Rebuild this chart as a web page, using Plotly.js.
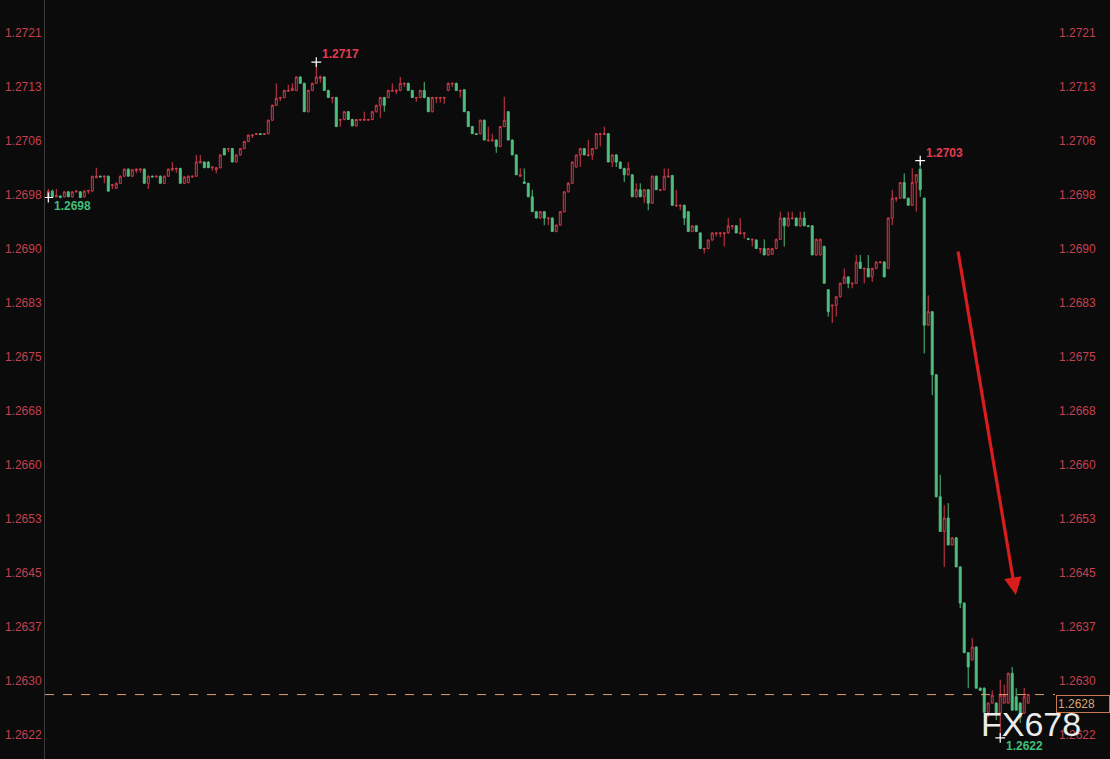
<!DOCTYPE html>
<html><head><meta charset="utf-8">
<script src="https://cdn.plot.ly/plotly-3.0.1.min.js"></script>
<style>html,body{margin:0;padding:0;background:#0b0b0b;overflow:hidden;} #chart{width:1110px;height:759px;}</style>
</head><body><div id="chart"></div>
<script>
const openP = [
1.26979,1.26987,1.26979,1.26980,1.26979,1.26986,1.26979,1.26986,1.26986,1.26979,
1.26987,1.26987,1.27006,1.27008,1.27007,1.27008,1.26995,1.26991,1.26998,1.27008,
1.27018,1.27008,1.27016,1.27017,1.27018,1.26998,1.27008,1.27007,1.27008,1.26998,
1.27008,1.27017,1.27018,1.27019,1.26998,1.26999,1.27007,1.27008,1.27027,1.27028,
1.27028,1.27020,1.27017,1.27020,1.27047,1.27046,1.27047,1.27028,1.27038,1.27047,
1.27057,1.27065,1.27067,1.27068,1.27067,1.27068,1.27087,1.27108,1.27118,1.27119,
1.27128,1.27129,1.27129,1.27148,1.27139,1.27099,1.27129,1.27139,1.27146,1.27148,
1.27129,1.27118,1.27119,1.27087,1.27088,1.27099,1.27088,1.27079,1.27087,1.27087,
1.27087,1.27088,1.27099,1.27108,1.27119,1.27119,1.27128,1.27128,1.27129,1.27138,
1.27139,1.27129,1.27118,1.27119,1.27129,1.27119,1.27099,1.27118,1.27118,1.27118,
1.27129,1.27138,1.27139,1.27128,1.27130,1.27099,1.27078,1.27068,1.27068,1.27087,
1.27058,1.27058,1.27059,1.27050,1.27078,1.27099,1.27059,1.27038,1.27008,1.27000,
1.26998,1.26979,1.26958,1.26949,1.26958,1.26948,1.26949,1.26930,1.26939,1.26958,
1.26986,1.26998,1.27021,1.27038,1.27047,1.27037,1.27038,1.27047,1.27067,1.27067,
1.27068,1.27028,1.27038,1.27028,1.27019,1.27010,1.27010,1.26979,1.26989,1.26979,
1.26989,1.26970,1.27008,1.26988,1.26989,1.27007,1.27009,1.26966,1.26966,1.26967,
1.26958,1.26930,1.26938,1.26928,1.26905,1.26906,1.26918,1.26927,1.26927,1.26927,
1.26928,1.26937,1.26938,1.26927,1.26927,1.26920,1.26918,1.26918,1.26905,1.26906,
1.26897,1.26898,1.26906,1.26919,1.26949,1.26938,1.26948,1.26949,1.26938,1.26949,
1.26938,1.26938,1.26897,1.26897,1.26909,1.26848,1.26825,1.26826,1.26838,1.26857,
1.26866,1.26856,1.26857,1.26887,1.26877,1.26878,1.26866,1.26878,1.26886,1.26887,
1.26878,1.26949,1.26976,1.26977,1.26999,1.26977,1.26967,1.26999,1.27018,1.26977,
1.26798,1.26817,1.26728,1.26556,1.26507,1.26526,1.26488,1.26498,1.26457,1.26406,
1.26336,1.26326,1.26344,1.26286,1.26286,1.26252,1.26265,1.26265,1.26251,1.26265,
1.26265,1.26307,1.26274,1.26265,1.26251,1.26265];
const highP = [
1.26990,1.26989,1.26990,1.26981,1.26987,1.26987,1.26987,1.26988,1.26987,1.26988,
1.26988,1.27008,1.27020,1.27009,1.27009,1.27009,1.26996,1.26999,1.27009,1.27019,
1.27019,1.27018,1.27019,1.27019,1.27019,1.27009,1.27009,1.27009,1.27009,1.27009,
1.27019,1.27028,1.27020,1.27020,1.27008,1.27009,1.27009,1.27038,1.27038,1.27029,
1.27029,1.27021,1.27021,1.27039,1.27048,1.27048,1.27048,1.27039,1.27048,1.27058,
1.27067,1.27067,1.27069,1.27069,1.27069,1.27088,1.27109,1.27139,1.27120,1.27130,
1.27137,1.27139,1.27149,1.27149,1.27140,1.27130,1.27140,1.27169,1.27150,1.27149,
1.27130,1.27120,1.27120,1.27089,1.27100,1.27100,1.27089,1.27089,1.27089,1.27099,
1.27089,1.27100,1.27109,1.27120,1.27120,1.27130,1.27139,1.27131,1.27148,1.27140,
1.27140,1.27130,1.27120,1.27130,1.27141,1.27120,1.27120,1.27120,1.27120,1.27120,
1.27140,1.27140,1.27140,1.27130,1.27131,1.27100,1.27079,1.27069,1.27088,1.27088,
1.27078,1.27068,1.27060,1.27079,1.27120,1.27100,1.27060,1.27039,1.27019,1.27019,
1.26999,1.26989,1.26959,1.26959,1.26959,1.26950,1.26950,1.26940,1.26959,1.26987,
1.27000,1.27029,1.27039,1.27048,1.27048,1.27059,1.27048,1.27069,1.27069,1.27078,
1.27069,1.27039,1.27039,1.27029,1.27020,1.27028,1.27011,1.26998,1.26998,1.26990,
1.26990,1.27009,1.27009,1.26990,1.27019,1.27019,1.27010,1.26989,1.26968,1.26968,
1.26959,1.26939,1.26939,1.26929,1.26907,1.26919,1.26929,1.26929,1.26929,1.26929,
1.26949,1.26939,1.26939,1.26949,1.26929,1.26921,1.26920,1.26919,1.26907,1.26919,
1.26907,1.26907,1.26920,1.26958,1.26950,1.26958,1.26958,1.26950,1.26958,1.26958,
1.26939,1.26939,1.26920,1.26920,1.26910,1.26849,1.26827,1.26839,1.26858,1.26878,
1.26867,1.26858,1.26897,1.26897,1.26879,1.26897,1.26879,1.26888,1.26888,1.26888,
1.26950,1.26989,1.26979,1.27000,1.27012,1.26978,1.27019,1.27011,1.27030,1.26978,
1.26840,1.26818,1.26729,1.26587,1.26544,1.26547,1.26499,1.26499,1.26458,1.26407,
1.26337,1.26357,1.26345,1.26287,1.26287,1.26266,1.26283,1.26266,1.26298,1.26291,
1.26308,1.26316,1.26286,1.26266,1.26286,1.26276];
const lowP = [
1.26978,1.26979,1.26978,1.26977,1.26978,1.26979,1.26978,1.26985,1.26978,1.26978,
1.26983,1.26986,1.27005,1.27007,1.26998,1.26987,1.26990,1.26990,1.26997,1.27007,
1.27008,1.27007,1.27012,1.27013,1.26998,1.26990,1.27007,1.27006,1.26998,1.26997,
1.27007,1.27015,1.27013,1.26998,1.26997,1.26998,1.27006,1.27007,1.27026,1.27020,
1.27020,1.27016,1.27012,1.27019,1.27038,1.27042,1.27028,1.27027,1.27037,1.27046,
1.27056,1.27062,1.27066,1.27066,1.27066,1.27067,1.27086,1.27107,1.27114,1.27118,
1.27127,1.27128,1.27128,1.27139,1.27099,1.27098,1.27128,1.27138,1.27140,1.27129,
1.27119,1.27111,1.27078,1.27078,1.27087,1.27088,1.27079,1.27078,1.27086,1.27086,
1.27086,1.27087,1.27098,1.27090,1.27099,1.27118,1.27127,1.27124,1.27128,1.27134,
1.27129,1.27119,1.27113,1.27118,1.27118,1.27099,1.27098,1.27111,1.27112,1.27110,
1.27128,1.27134,1.27129,1.27119,1.27099,1.27078,1.27068,1.27067,1.27067,1.27059,
1.27057,1.27057,1.27041,1.27049,1.27077,1.27059,1.27038,1.27010,1.27007,1.26997,
1.26979,1.26958,1.26949,1.26948,1.26939,1.26939,1.26930,1.26929,1.26938,1.26957,
1.26985,1.26997,1.27020,1.27021,1.27038,1.27036,1.27031,1.27046,1.27050,1.27066,
1.27028,1.27021,1.27021,1.27019,1.27000,1.27009,1.26979,1.26978,1.26979,1.26970,
1.26960,1.26969,1.26989,1.26987,1.26988,1.27006,1.26967,1.26965,1.26960,1.26939,
1.26930,1.26929,1.26930,1.26906,1.26899,1.26905,1.26917,1.26923,1.26922,1.26909,
1.26927,1.26933,1.26928,1.26926,1.26920,1.26918,1.26909,1.26906,1.26899,1.26897,
1.26896,1.26897,1.26905,1.26918,1.26909,1.26937,1.26947,1.26938,1.26937,1.26938,
1.26937,1.26897,1.26896,1.26896,1.26857,1.26810,1.26801,1.26810,1.26837,1.26856,
1.26850,1.26850,1.26856,1.26878,1.26857,1.26866,1.26859,1.26877,1.26885,1.26866,
1.26877,1.26939,1.26972,1.26976,1.26977,1.26967,1.26966,1.26958,1.26979,1.26758,
1.26797,1.26699,1.26555,1.26507,1.26457,1.26488,1.26487,1.26457,1.26399,1.26336,
1.26286,1.26325,1.26286,1.26282,1.26252,1.26245,1.26264,1.26241,1.26216,1.26264,
1.26264,1.26255,1.26255,1.26237,1.26250,1.26264];
const closeP = [
1.26987,1.26979,1.26981,1.26978,1.26986,1.26979,1.26986,1.26987,1.26978,1.26987,
1.26988,1.27008,1.27008,1.27007,1.27008,1.26987,1.26996,1.26998,1.27008,1.27018,
1.27008,1.27017,1.27018,1.27018,1.26998,1.27008,1.27007,1.27008,1.26998,1.27008,
1.27018,1.27019,1.27019,1.26998,1.27007,1.27008,1.27008,1.27028,1.27029,1.27020,
1.27020,1.27021,1.27020,1.27038,1.27038,1.27047,1.27028,1.27038,1.27047,1.27057,
1.27066,1.27066,1.27068,1.27067,1.27068,1.27087,1.27108,1.27118,1.27119,1.27129,
1.27129,1.27132,1.27148,1.27139,1.27099,1.27129,1.27139,1.27148,1.27148,1.27129,
1.27119,1.27119,1.27078,1.27088,1.27099,1.27088,1.27079,1.27088,1.27088,1.27088,
1.27088,1.27099,1.27108,1.27119,1.27108,1.27129,1.27129,1.27129,1.27139,1.27139,
1.27129,1.27119,1.27119,1.27129,1.27119,1.27099,1.27119,1.27119,1.27119,1.27119,
1.27139,1.27139,1.27129,1.27129,1.27099,1.27078,1.27068,1.27067,1.27087,1.27059,
1.27059,1.27059,1.27050,1.27078,1.27087,1.27059,1.27038,1.27010,1.27010,1.26998,
1.26979,1.26958,1.26949,1.26958,1.26949,1.26949,1.26930,1.26939,1.26958,1.26986,
1.26998,1.27028,1.27038,1.27047,1.27038,1.27038,1.27047,1.27068,1.27068,1.27068,
1.27028,1.27038,1.27028,1.27019,1.27010,1.27019,1.26979,1.26989,1.26979,1.26989,
1.26970,1.27008,1.26989,1.26989,1.27008,1.27008,1.26967,1.26967,1.26967,1.26949,
1.26930,1.26938,1.26930,1.26906,1.26906,1.26918,1.26928,1.26928,1.26928,1.26928,
1.26938,1.26938,1.26928,1.26928,1.26928,1.26919,1.26919,1.26906,1.26906,1.26897,
1.26906,1.26906,1.26919,1.26949,1.26938,1.26949,1.26949,1.26938,1.26949,1.26938,
1.26937,1.26897,1.26919,1.26919,1.26857,1.26817,1.26826,1.26838,1.26857,1.26866,
1.26857,1.26857,1.26887,1.26878,1.26878,1.26866,1.26878,1.26887,1.26887,1.26866,
1.26949,1.26977,1.26977,1.26999,1.26977,1.26967,1.26999,1.27010,1.26989,1.26798,
1.26817,1.26728,1.26556,1.26507,1.26526,1.26488,1.26498,1.26457,1.26406,1.26336,
1.26316,1.26344,1.26286,1.26283,1.26252,1.26265,1.26276,1.26251,1.26276,1.26276,
1.26307,1.26255,1.26255,1.26245,1.26274,1.26277];

const tickVals = [1.262200,1.262962,1.263723,1.264485,1.265246,1.266008,1.266769,
                  1.267531,1.268292,1.269054,1.269815,1.270577,1.271338,1.272100];
const tickText = ['1.2622','1.2630','1.2637','1.2645','1.2653','1.2660','1.2668',
                  '1.2675','1.2683','1.2690','1.2698','1.2706','1.2713','1.2721'];

// marked extremes: candle index and which side is marked
const markIdx  = [0, 67, 218, 238];
const markSide = ['low', 'high', 'high', 'low'];

const BG = '#0b0b0b';
const RED = '#d43a4c';
const GREEN = '#4fbf7e';
const TICK = '#c4404f';

const xIdx = closeP.map((_, i) => i);
const markY = markIdx.map((i, k) => markSide[k] === 'high' ? highP[i] : lowP[i]);
const lastClose = closeP[closeP.length - 1];

const traces = [
  {
    type: 'candlestick', x: xIdx, open: openP, high: highP, low: lowP, close: closeP,
    increasing: {line: {color: RED, width: 1}, fillcolor: BG},
    decreasing: {line: {color: GREEN, width: 1}, fillcolor: GREEN},
    whiskerwidth: 0, hoverinfo: 'none', showlegend: false
  },
  {
    type: 'scatter', x: [xIdx[0]], y: [closeP[0]], yaxis: 'y2', mode: 'markers',
    marker: {opacity: 0}, hoverinfo: 'skip', showlegend: false
  },
  {
    type: 'scatter', x: markIdx, y: markY, mode: 'markers',
    marker: {symbol: 'cross-thin', size: 7, line: {color: '#ffffff', width: 1.2}},
    hoverinfo: 'skip', showlegend: false
  }
];

const yRange = [1.2618615, 1.2725654];
const axisFont = {family: 'Liberation Sans, Arial, sans-serif', size: 12, color: TICK};

const annotations = markIdx.map((i, k) => ({
  x: i, y: markY[k], xref: 'x', yref: 'y', text: '<b>' + markY[k].toFixed(4) + '</b>',
  showarrow: false, xanchor: 'left', yanchor: 'middle', xshift: 4,
  yshift: markSide[k] === 'high' ? 8 : -8,
  font: {family: 'Liberation Sans, Arial, sans-serif', size: 12,
         color: markSide[k] === 'high' ? '#e23c52' : '#3fbf78'}
}));

annotations.push({
  x: 241.9, y: 1.264174, ax: 227.4, ay: 1.26904, xref: 'x', yref: 'y', axref: 'x', ayref: 'y',
  text: '', showarrow: true, arrowhead: 2, arrowsize: 1.1, arrowwidth: 3.2, arrowcolor: '#d91c1c'
});
annotations.push({
  x: 1, y: lastClose, xref: 'paper', yref: 'y', text: lastClose.toFixed(4),
  showarrow: false, xanchor: 'left', yanchor: 'top', xshift: 1, yshift: 0,
  bgcolor: BG, bordercolor: '#c8794f', borderwidth: 1, borderpad: 1, width: 50, align: 'left',
  font: {family: 'Liberation Sans, Arial, sans-serif', size: 12, color: '#d9a577'}
});
annotations.push({
  x: 245.7, y: 1.262362, xref: 'x', yref: 'y', text: 'FX678', showarrow: false,
  xanchor: 'center', yanchor: 'middle',
  font: {family: 'Liberation Sans, Arial, sans-serif', size: 34, color: '#ececec'}
});

const layout = {
  width: 1110, height: 759,
  paper_bgcolor: BG, plot_bgcolor: BG,
  margin: {l: 45, r: 55, t: 0, b: 0, pad: 0},
  showlegend: false, dragmode: false, hovermode: false,
  xaxis: {range: [-0.825, 251.7], visible: false, rangeslider: {visible: false}, fixedrange: true},
  yaxis: {range: yRange, tickvals: tickVals, ticktext: tickText, tickfont: axisFont,
          showgrid: false, zeroline: false, showline: true, linecolor: '#3a3a3a', linewidth: 1,
          ticks: '', side: 'left', fixedrange: true},
  yaxis2: {range: yRange, tickvals: tickVals, ticktext: tickText, tickfont: axisFont,
           overlaying: 'y', side: 'right', showgrid: false, zeroline: false, showline: false,
           ticks: '', ticklabelstandoff: 3, fixedrange: true},
  shapes: [{
    type: 'line', xref: 'paper', yref: 'y', x0: 0, x1: 1, y0: lastClose, y1: lastClose,
    line: {color: '#e0a070', width: 1, dash: 'dash'}
  }],
  annotations: annotations
};

Plotly.newPlot('chart', traces, layout, {displayModeBar: false, staticPlot: true});
</script>
</body></html>
